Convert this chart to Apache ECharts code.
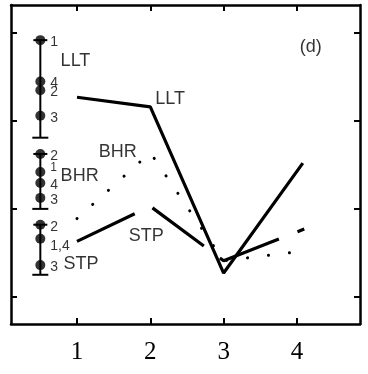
<!DOCTYPE html>
<html>
<head>
<meta charset="utf-8">
<script src="https://cdn.jsdelivr.net/npm/echarts@6/dist/echarts.min.js"></script>
<style>
  html, body { margin: 0; padding: 0; background: #fff; }
  #chart { width: 368px; height: 374px; }
</style>
</head>
<body>
<div id="chart"></div>
<script>
// runs on the x axis
const xTicks = [1, 2, 3, 4];
const yTicks = [0, 1, 2, 3];

// mean lines
const lltX = [1, 2, 3, 4.08];
const lltY = [2.27, 2.16, 0.27, 1.52];
const bhrX = [1, 2, 3, 4];
const bhrY = [0.89, 1.64, 0.41, 0.51];
const stpX = [1, 2, 3, 4.1];
const stpY = [0.63, 1.03, 0.41, 0.77];

// ranked bars on the left
const barX = 0.5;
const lltMarks = [2.92, 2.45, 2.35, 2.06];
const lltMarkNames = ['1', '4', '2', '3'];
const lltCap = 1.81;
const bhrMarks = [1.625, 1.42, 1.295, 1.125];
const bhrMarkNames = ['2', '1', '4', '3'];
const bhrCap = 1.0;
const stpMarks = [0.82, 0.66, 0.36];
const stpMarkNames = ['2', '1,4', '3'];
const stpCap = 0.25;

// text notes, [x, y, text]
const notes = [
  [0.77, 2.68, 'LLT'],
  [0.77, 1.375, 'BHR'],
  [0.81, 0.375, 'STP'],
  [2.06, 2.25, 'LLT'],
  [1.29, 1.65, 'BHR'],
  [1.70, 0.69, 'STP'],
  [4.03, 2.84, '(d)']
];

const pair = (xs, ys) => xs.map((x, i) => [x, ys[i]]);

// small nudges for the rank numbers
const nudge = { '1,4': 7, '1': 2 };
const markItems = (vals, names, group) => vals.map((v, i) => {
  let dy = nudge[names[i]] || 2;
  let size = 14;
  if (group === 'bhr' && names[i] === '1') { dy = -4; size = 12; }
  return {
    value: [barX, v],
    label: { formatter: names[i], offset: [0, dy], fontSize: size }
  };
});

const bars = [
  [barX, lltMarks[0], lltCap],
  [barX, bhrMarks[0], bhrCap],
  [barX, stpMarks[0], stpCap]
];

const chart = echarts.init(document.getElementById('chart'));

const frameLine = { show: true, onZero: false, lineStyle: { color: '#000', width: 2.5 } };
const tickStyle = { color: '#000', width: 2 };

chart.setOption({
  animation: false,
  backgroundColor: '#fff',
  grid: { left: 11, right: 8, top: 5, bottom: 50 },
  xAxis: [
    {
      type: 'value', min: 0.1, max: 4.86, position: 'bottom',
      axisLine: frameLine, splitLine: { show: false },
      axisTick: { inside: true, length: 6, customValues: xTicks, lineStyle: tickStyle },
      axisLabel: {
        customValues: xTicks, margin: 16, color: '#000',
        fontFamily: 'Liberation Serif', fontSize: 25
      }
    },
    {
      type: 'value', min: 0.1, max: 4.86, position: 'top',
      axisLine: frameLine, splitLine: { show: false },
      axisTick: { inside: true, length: 6, customValues: xTicks, lineStyle: tickStyle },
      axisLabel: { show: false }
    }
  ],
  yAxis: [
    {
      type: 'value', min: -0.31, max: 3.32, position: 'left',
      axisLine: frameLine, splitLine: { show: false },
      axisTick: { inside: true, length: 6, customValues: yTicks, lineStyle: tickStyle },
      axisLabel: { show: false }
    },
    {
      type: 'value', min: -0.31, max: 3.32, position: 'right',
      axisLine: frameLine, splitLine: { show: false },
      axisTick: { inside: true, length: 6, customValues: yTicks, lineStyle: tickStyle },
      axisLabel: { show: false }
    }
  ],
  series: [
    {
      name: 'LLT', type: 'line', data: pair(lltX, lltY),
      symbol: 'none', lineStyle: { color: '#000', width: 3.2 }
    },
    {
      name: 'BHR', type: 'line', data: pair(bhrX, bhrY),
      symbol: 'none', lineStyle: { color: '#000', width: 3, type: [0.1, 21], cap: 'round' }
    },
    {
      name: 'STP', type: 'line', data: pair(stpX, stpY),
      symbol: 'none', lineStyle: { color: '#000', width: 3.2, type: [64, 20] }
    },
    {
      type: 'custom', data: bars,
      renderItem: function (params, api) {
        const top = api.coord([api.value(0), api.value(1)]);
        const bot = api.coord([api.value(0), api.value(2)]);
        const style = { stroke: '#000', lineWidth: 2, fill: null };
        return {
          type: 'group',
          children: [
            { type: 'line', shape: { x1: top[0], y1: top[1], x2: bot[0], y2: bot[1] }, style: style },
            { type: 'line', shape: { x1: top[0] - 7, y1: top[1], x2: top[0] + 7, y2: top[1] }, style: style },
            { type: 'line', shape: { x1: bot[0] - 8, y1: bot[1], x2: bot[0] + 8, y2: bot[1] }, style: style }
          ]
        };
      }
    },
    {
      type: 'scatter', symbol: 'circle', symbolSize: 10,
      itemStyle: { color: '#000' },
      label: {
        show: true, position: 'right', distance: 5, color: '#000',
        fontFamily: 'Liberation Sans', fontSize: 14
      },
      data: [].concat(
        markItems(lltMarks, lltMarkNames, 'llt'),
        markItems(bhrMarks, bhrMarkNames, 'bhr'),
        markItems(stpMarks, stpMarkNames, 'stp')
      )
    },
    {
      type: 'scatter', symbolSize: 1, silent: true,
      itemStyle: { color: 'rgba(0,0,0,0)' },
      label: {
        show: true, position: 'right', distance: 0, color: '#000',
        fontFamily: 'Liberation Sans', fontSize: 18,
        formatter: p => p.data[2]
      },
      data: notes
    }
  ]
});
</script>
</body>
</html>
